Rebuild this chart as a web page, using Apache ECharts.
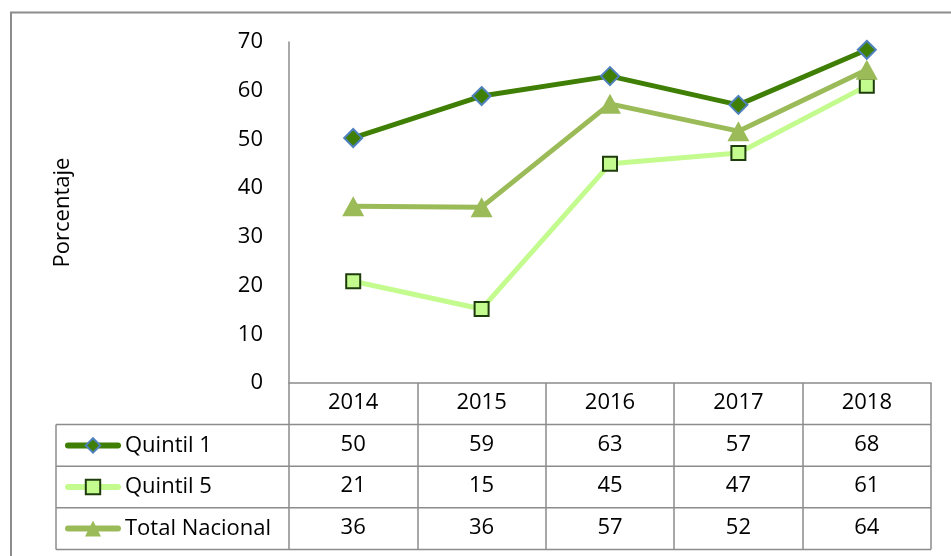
<!DOCTYPE html>
<html>
<head>
<meta charset="utf-8">
<script src="https://cdn.jsdelivr.net/npm/echarts@6/dist/echarts.min.js"></script>
<style>
html,body{margin:0;padding:0;background:#fff;}
#c{width:951px;height:556px;}
</style>
</head>
<body>
<div id="c"></div>
<script>
var categories = ['2014', '2015', '2016', '2017', '2018'];
var quintil1 = [50.3, 58.9, 63.0, 57.1, 68.4];
var quintil5 = [20.9, 15.2, 45.0, 47.2, 61.0];
var totalNacional = [36.3, 36.1, 57.3, 51.7, 64.3];
var seriesNames = ['Quintil 1', 'Quintil 5', 'Total Nacional'];
var yTicks = [0, 10, 20, 30, 40, 50, 60, 70];

var FONT = 'Open Sans';
var FS = 22;
var GRID_LEFT = 289, GRID_RIGHT = 20, GRID_TOP = 42, AXIS_Y = 383;
var ROW_H = 41.6;
var TABLE_LEFT = 56;
var BORDER = '#8c8c8c';

var chart = echarts.init(document.getElementById('c'), null, {renderer: 'canvas'});

var allSeries = [quintil1, quintil5, totalNacional];
var lineColors = ['#3f7f05', '#c3fb8e', '#9bbb59'];
var legendSymbolSize = [18, 18, 20];

function valueAxis(rowIdx) {
  var data = allSeries[rowIdx];
  return {
    type: 'category',
    data: categories,
    position: 'bottom',
    offset: ROW_H * (rowIdx + 1),
    axisLine: {show: false},
    axisTick: {show: false},
    axisLabel: {
      margin: 9,
      fontFamily: FONT, fontSize: FS, color: '#000',
      formatter: function (v, i) { return String(Math.round(data[i])); }
    }
  };
}

function legendFor(i) {
  return {
    orient: 'vertical',
    left: 65,
    top: AXIS_Y + ROW_H * (i + 1) + ROW_H / 2 - 13,
    itemWidth: 50,
    itemHeight: legendSymbolSize[i],
    itemGap: 0,
    padding: 0,
    lineStyle: {width: 6, cap: 'round'},
    textStyle: {fontFamily: FONT, fontSize: FS, color: '#000', lineHeight: 26, padding: [0, 0, 0, 2]},
    data: [seriesNames[i]]
  };
}

var option = {
  animation: false,
  backgroundColor: '#fff',
  grid: {left: GRID_LEFT, right: GRID_RIGHT, top: GRID_TOP, bottom: 556 - AXIS_Y},
  xAxis: [
    {
      type: 'category',
      data: categories,
      boundaryGap: true,
      axisLine: {show: true, lineStyle: {color: BORDER, width: 1.5}},
      axisTick: {show: true, length: ROW_H * 4, lineStyle: {color: BORDER, width: 1.5}},
      axisLabel: {margin: 9, fontFamily: FONT, fontSize: FS, color: '#000'}
    },
    valueAxis(0), valueAxis(1), valueAxis(2)
  ],
  yAxis: {
    type: 'value',
    min: yTicks[0], max: yTicks[yTicks.length - 1], interval: 10,
    name: 'Porcentaje',
    nameLocation: 'middle',
    nameRotate: 90,
    nameGap: 215,
    nameTextStyle: {fontFamily: FONT, fontSize: FS, color: '#000'},
    axisLine: {show: true, lineStyle: {color: BORDER, width: 1.5}},
    axisTick: {show: false},
    splitLine: {show: false},
    axisLabel: {margin: 26, fontFamily: FONT, fontSize: FS, color: '#000'}
  },
  legend: [legendFor(0), legendFor(1), legendFor(2)],
  series: [
    {
      name: seriesNames[0], type: 'line', data: quintil1,
      lineStyle: {color: lineColors[0], width: 5},
      itemStyle: {color: lineColors[0], borderColor: '#4f81bd', borderWidth: 2},
      symbol: 'diamond', symbolSize: 18, z: 4
    },
    {
      name: seriesNames[1], type: 'line', data: quintil5,
      lineStyle: {color: lineColors[1], width: 5},
      itemStyle: {color: lineColors[1], borderColor: '#1f3d0c', borderWidth: 2},
      symbol: 'rect', symbolSize: 14, z: 2
    },
    {
      name: seriesNames[2], type: 'line', data: totalNacional,
      lineStyle: {color: lineColors[2], width: 5},
      itemStyle: {color: lineColors[2], borderWidth: 0},
      symbol: 'triangle', symbolSize: [22, 20], z: 3
    }
  ],
  graphic: []
};

chart.setOption(option);

var g = [];
g.push({type: 'rect', shape: {x: 11, y: 12.5, width: 960, height: 560}, style: {fill: null, stroke: BORDER, lineWidth: 2}, silent: true, z: 0});
for (var r = 1; r <= 4; r++) {
  var y = AXIS_Y + ROW_H * r;
  g.push({type: 'line', shape: {x1: TABLE_LEFT, y1: y, x2: 951 - GRID_RIGHT, y2: y}, style: {stroke: BORDER, lineWidth: 1.5}, silent: true});
}
g.push({type: 'line', shape: {x1: TABLE_LEFT, y1: AXIS_Y + ROW_H, x2: TABLE_LEFT, y2: AXIS_Y + ROW_H * 4}, style: {stroke: BORDER, lineWidth: 1.5}, silent: true});
chart.setOption({graphic: g});
</script>
</body>
</html>
